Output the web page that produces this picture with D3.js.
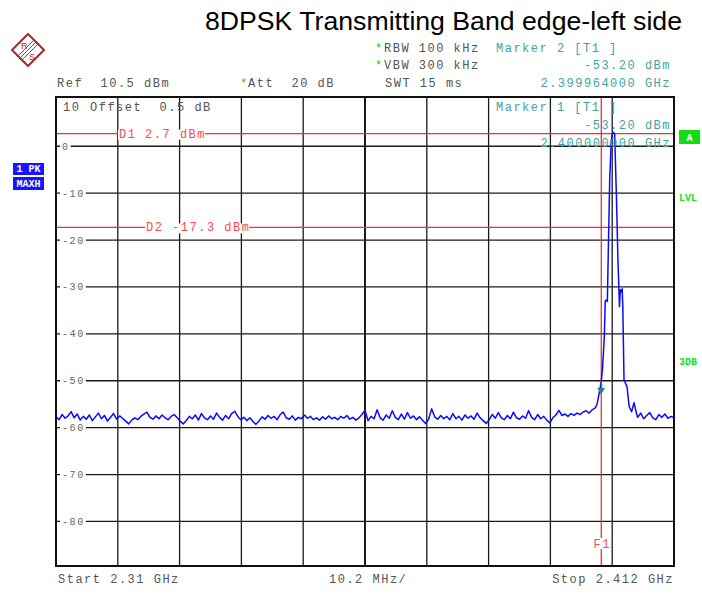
<!DOCTYPE html>
<html>
<head>
<meta charset="utf-8">
<script src="https://cdn.jsdelivr.net/npm/d3@7"></script>
<style>
  body { margin: 0; background: #fff; }
  svg { display: block; }
  .mono { font-family: "Liberation Mono", "DejaVu Sans Mono", monospace; font-size: 12px; letter-spacing: 1.5px; white-space: pre; }
</style>
</head>
<body>
<div id="chart"></div>
<script>
// sweep settings
const sweepStartMHz = 2310;
const sweepStopMHz = 2412;
const refLevelDbm = 10.5;
const bottomLevelDbm = -89.5;

// vertical grid (10.2 MHz / div) and level grid lines
const xGridMHz = [2310, 2320.2, 2330.4, 2340.6, 2350.8, 2361, 2371.2, 2381.4, 2391.6, 2401.8, 2412];
const yGridDbm = [0, -10, -20, -30, -40, -50, -60, -70, -80];
const yGridLabels = ["0", "-10", "-20", "-30", "-40", "-50", "-60", "-70", "-80"];

// noise floor left of the carrier, one point per 0.5 MHz from 2310.0 to 2398.0
const noiseLeftStepMHz = 0.5;
const noiseLeftDbm = [
  -57.6, -58.3, -57.2, -58.0, -57.5, -56.6, -57.9, -57.1, -58.4, -57.6,
  -58.2, -57.3, -58.5, -57.7, -56.9, -58.1, -57.4, -58.6, -57.8, -57.0,
  -58.2, -57.5, -58.0, -58.6, -59.2, -58.4, -57.9, -58.3, -57.6, -57.1,
  -56.7, -57.8, -58.2, -57.5, -58.1, -57.3, -57.9, -58.3, -57.6, -57.2,
  -57.9, -58.6, -59.2, -58.5, -57.6, -58.1, -57.3, -58.4, -57.0, -57.9,
  -58.3, -57.5, -58.2, -56.9, -57.8, -58.4, -57.4, -58.1, -57.0, -56.5,
  -57.6, -58.3, -57.8, -58.5, -57.9, -58.7, -59.3, -58.6, -57.7, -58.2,
  -57.4, -58.0, -57.6, -58.3, -57.2, -56.7, -57.9, -58.2, -57.5, -58.4,
  -57.8, -58.1, -57.3, -58.0, -57.6, -58.3, -57.9, -58.4, -57.7, -58.2,
  -57.5, -58.1, -57.8, -58.3, -57.6, -58.0, -57.4, -58.2, -57.8, -58.4,
  -57.9, -57.2, -56.3, -58.5, -57.6, -58.1, -56.2, -57.9, -58.4, -57.3,
  -58.0, -56.4, -57.8, -58.3, -57.1, -58.2, -56.8, -58.0, -57.5, -58.3,
  -57.7, -58.4, -59.1, -58.2, -56.0, -57.7, -58.2, -57.4, -58.1, -57.6,
  -58.3, -57.0, -58.1, -57.6, -58.4, -57.3, -58.0, -57.5, -58.2, -56.9,
  -57.9, -58.5, -59.1, -58.3, -57.2, -58.0, -56.8, -57.9, -58.3, -57.4,
  -58.1, -56.7, -57.9, -58.2, -57.5, -58.0, -56.4, -57.8, -58.3, -57.2,
  -58.1, -57.6, -58.4, -59.0, -57.9, -57.3, -56.3, -57.4, -57.1, -57.6,
  -57.0, -57.4, -56.9, -57.2, -56.7, -56.4, -56.9
];

// carrier region
const carrierMHz = [
  2398.5, 2399.0, 2399.3, 2399.6, 2399.96, 2400.2, 2400.5, 2400.65, 2400.8, 2401.0,
  2401.15, 2401.4, 2401.65, 2401.85, 2402.0, 2402.2, 2402.5, 2402.75, 2403.0, 2403.15,
  2403.3, 2403.45, 2403.55, 2403.75, 2404.25, 2404.6, 2405.0, 2405.4, 2405.8
];
const carrierDbm = [
  -56.2, -55.8, -55.0, -53.0, -50.5, -47.5, -40.6, -33.0, -32.8, -33.1,
  -22.8, -6.5, 1.3, 2.7, 2.9, 2.7, -10.8, -24.3, -34.2, -30.6,
  -31.0, -30.4, -34.2, -49.8, -51.3, -55.5, -56.6, -54.7, -56.9
];

// noise floor right of the carrier, 2406.0 to 2412.0
const noiseRightStartMHz = 2406;
const noiseRightStepMHz = 0.5;
const noiseRightDbm = [-57.8, -56.9, -58.1, -57.4, -56.8, -57.9, -58.3, -57.2, -57.8, -57.1, -58.0, -57.6, -57.9];

// display lines, frequency line and marker
const displayLines = [{ name: "D1", level: 2.7, label: "D1 2.7 dBm", at: 119 },
                      { name: "D2", level: -17.3, label: "D2 -17.3 dBm", at: 146 }];
const freqLineMHz = 2400;
const markerMHz = 2399.964;
const markerDbm = -53.2;

const margin = { top: 97, right: 28, bottom: 27, left: 56 };
const width = 702, height = 593;

const svg = d3.select("#chart").append("svg")
  .attr("width", width)
  .attr("height", height);

const x = d3.scaleLinear()
  .domain([sweepStartMHz, sweepStopMHz])
  .range([margin.left, width - margin.right]);
const y = d3.scaleLinear()
  .domain([refLevelDbm, bottomLevelDbm])
  .range([margin.top, height - margin.bottom]);

// title
svg.append("text")
  .attr("x", 205).attr("y", 30)
  .attr("textLength", 477)
  .attr("lengthAdjust", "spacingAndGlyphs")
  .style("font-family", "Liberation Sans, Arial, sans-serif")
  .style("font-size", "25.5px")
  .attr("fill", "#000")
  .text("8DPSK Transmitting Band edge-left side");

// R&S logo
const logo = svg.append("g").attr("transform", "translate(28,50)");
logo.append("path")
  .attr("d", "M0,-16 L16,0 L0,16 L-16,0 Z")
  .attr("fill", "#fff").attr("stroke", "#a82828").attr("stroke-width", 2);
[-2, 0, 2].forEach((o) => {
  logo.append("line")
    .attr("x1", 9 + o).attr("y1", -9 + o).attr("x2", -9 + o).attr("y2", 9 + o)
    .attr("stroke", "#a82828").attr("stroke-width", 0.9);
});
logo.append("text").attr("x", -7).attr("y", -1).text("R")
  .style("font-family", "Liberation Sans, sans-serif").style("font-size", "9px")
  .attr("fill", "#a82828");
logo.append("text").attr("x", 1).attr("y", 10).text("S")
  .style("font-family", "Liberation Sans, sans-serif").style("font-size", "9px")
  .attr("fill", "#a82828");

// header texts
const gray = "#555", teal = "#3fa3a0", star = "#11cc11";
function txt(str, tx, ty, color, anchor) {
  return svg.append("text")
    .attr("class", "mono")
    .attr("x", tx).attr("y", ty)
    .attr("fill", color)
    .attr("text-anchor", anchor || "start")
    .text(str);
}
txt("*", 375, 52, star);
txt("RBW 100 kHz", 384, 52, gray);
txt("Marker 2 [T1 ]", 496, 52, teal);
txt("*", 375, 69, star);
txt("VBW 300 kHz", 384, 69, gray);
txt("-53.20 dBm", 671, 69, teal, "end");
txt("Ref  10.5 dBm", 57, 86.5, gray);
txt("*", 240, 86.5, star);
txt("Att  20 dB", 248, 86.5, gray);
txt("SWT 15 ms", 385, 86.5, gray);
txt("2.399964000 GHz", 671, 86.5, teal, "end");

// plot frame background
svg.append("rect")
  .attr("x", x(sweepStartMHz)).attr("y", y(refLevelDbm))
  .attr("width", x(sweepStopMHz) - x(sweepStartMHz))
  .attr("height", y(bottomLevelDbm) - y(refLevelDbm))
  .attr("fill", "#fff");

// vertical grid
svg.append("g").selectAll("line")
  .data(xGridMHz)
  .join("line")
  .attr("x1", (d) => x(d)).attr("x2", (d) => x(d))
  .attr("y1", y(refLevelDbm)).attr("y2", y(bottomLevelDbm))
  .attr("stroke", "#1a1a1a")
  .attr("stroke-width", (d, i) => (i === 5 ? 2 : 1.3));

// horizontal grid
svg.append("g").selectAll("line")
  .data(yGridDbm)
  .join("line")
  .attr("x1", x(sweepStartMHz)).attr("x2", x(sweepStopMHz))
  .attr("y1", (d) => y(d)).attr("y2", (d) => y(d))
  .attr("stroke", "#1a1a1a")
  .attr("stroke-width", 1.3);

// level labels sitting on the grid lines
const yl = svg.append("g").selectAll("g")
  .data(yGridDbm)
  .join("g")
  .attr("transform", (d) => `translate(62,${y(d)})`);
yl.append("rect")
  .attr("x", -2).attr("y", -5)
  .attr("width", (d, i) => yGridLabels[i].length * 7.6 + 3)
  .attr("height", 10)
  .attr("fill", "#fff");
yl.append("text")
  .attr("y", 3.5)
  .style("font-family", "Liberation Mono, monospace")
  .style("font-size", "10px")
  .style("letter-spacing", "1.6px")
  .attr("fill", "#666")
  .text((d, i) => yGridLabels[i]);

// in-plot info
txt("10", 63, 110.5, gray);
txt("Offset  0.5 dB", 90, 110.5, gray);
txt("Marker 1 [T1 ]", 496, 110.5, teal);
txt("-53.20 dBm", 671, 129, teal, "end");

// display lines
displayLines.forEach((dl) => {
  svg.append("line")
    .attr("x1", x(sweepStartMHz)).attr("x2", x(sweepStopMHz) + 1)
    .attr("y1", y(dl.level)).attr("y2", y(dl.level))
    .attr("stroke", "#ff2a2a").attr("stroke-width", 1.3);
  const t = txt(dl.label, dl.at, y(dl.level) + 4, "#ff4a4a");
  const bb = t.node().getBBox();
  svg.insert("rect", function () { return t.node(); })
    .attr("x", bb.x - 1).attr("y", bb.y + 2)
    .attr("width", bb.width).attr("height", bb.height - 4)
    .attr("fill", "#fff");
});

// frequency line
svg.append("line")
  .attr("x1", x(freqLineMHz)).attr("x2", x(freqLineMHz))
  .attr("y1", y(refLevelDbm)).attr("y2", y(bottomLevelDbm))
  .attr("stroke", "#ff2a2a").attr("stroke-width", 1.3);
svg.append("rect")
  .attr("x", x(freqLineMHz) - 9).attr("y", 538)
  .attr("width", 18).attr("height", 11).attr("fill", "#fff");
txt("F1", x(freqLineMHz) + 1, 548, "#ff4a4a", "middle");

// trace
const trace = [];
noiseLeftDbm.forEach((v, i) => trace.push([sweepStartMHz + i * noiseLeftStepMHz, v]));
carrierMHz.forEach((f, i) => trace.push([f, carrierDbm[i]]));
noiseRightDbm.forEach((v, i) => trace.push([noiseRightStartMHz + i * noiseRightStepMHz, v]));

svg.append("path")
  .datum(trace)
  .attr("fill", "none")
  .attr("stroke", "#0a0aff")
  .attr("stroke-width", 1.5)
  .attr("stroke-linejoin", "round")
  .attr("d", d3.line().x((d) => x(d[0])).y((d) => y(d[1])));

// marker frequency text drawn over the trace like on the screen
txt("2.400000000 GHz", 671, 146.5, teal, "end");

// marker symbol
const mx = x(markerMHz), my = y(markerDbm);
svg.append("path")
  .attr("d", `M${mx - 4},${my - 8} L${mx + 4},${my - 8} L${mx},${my - 1} Z`)
  .attr("fill", "#1f8a80");
svg.append("text")
  .attr("x", mx).attr("y", my - 10)
  .attr("text-anchor", "middle")
  .style("font-family", "Liberation Mono, monospace").style("font-size", "8px")
  .attr("fill", "#1f8a80")
  .text("1");

// frame
svg.append("rect")
  .attr("x", x(sweepStartMHz)).attr("y", y(refLevelDbm))
  .attr("width", x(sweepStopMHz) - x(sweepStartMHz))
  .attr("height", y(bottomLevelDbm) - y(refLevelDbm))
  .attr("fill", "none").attr("stroke", "#111").attr("stroke-width", 2);

// bottom labels
txt("Start 2.31 GHz", 58, 583, gray);
txt("10.2 MHz/", 329, 583, gray);
txt("Stop 2.412 GHz", 674, 583, gray, "end");

// side indicators
function badge(str, bx, by, w, h, fill) {
  svg.append("rect").attr("x", bx).attr("y", by).attr("width", w).attr("height", h).attr("fill", fill);
  svg.append("text")
    .attr("x", bx + w / 2).attr("y", by + h - 3)
    .attr("text-anchor", "middle")
    .style("font-family", "Liberation Mono, monospace").style("font-size", "10px")
    .style("font-weight", "bold")
    .attr("fill", "#fff")
    .text(str);
}
badge("1 PK", 13, 163, 31, 12, "#1515ff");
badge("MAXH", 13, 177, 31, 13, "#1515ff");
badge("A", 679, 130, 21, 14, "#11dd11");

[["LVL", 201], ["3DB", 365]].forEach(([s, ty]) => {
  svg.append("text")
    .attr("x", 679).attr("y", ty)
    .style("font-family", "Liberation Mono, monospace").style("font-size", "10px")
    .style("font-weight", "bold")
    .attr("fill", "#22dd22")
    .text(s);
});
</script>
</body>
</html>
